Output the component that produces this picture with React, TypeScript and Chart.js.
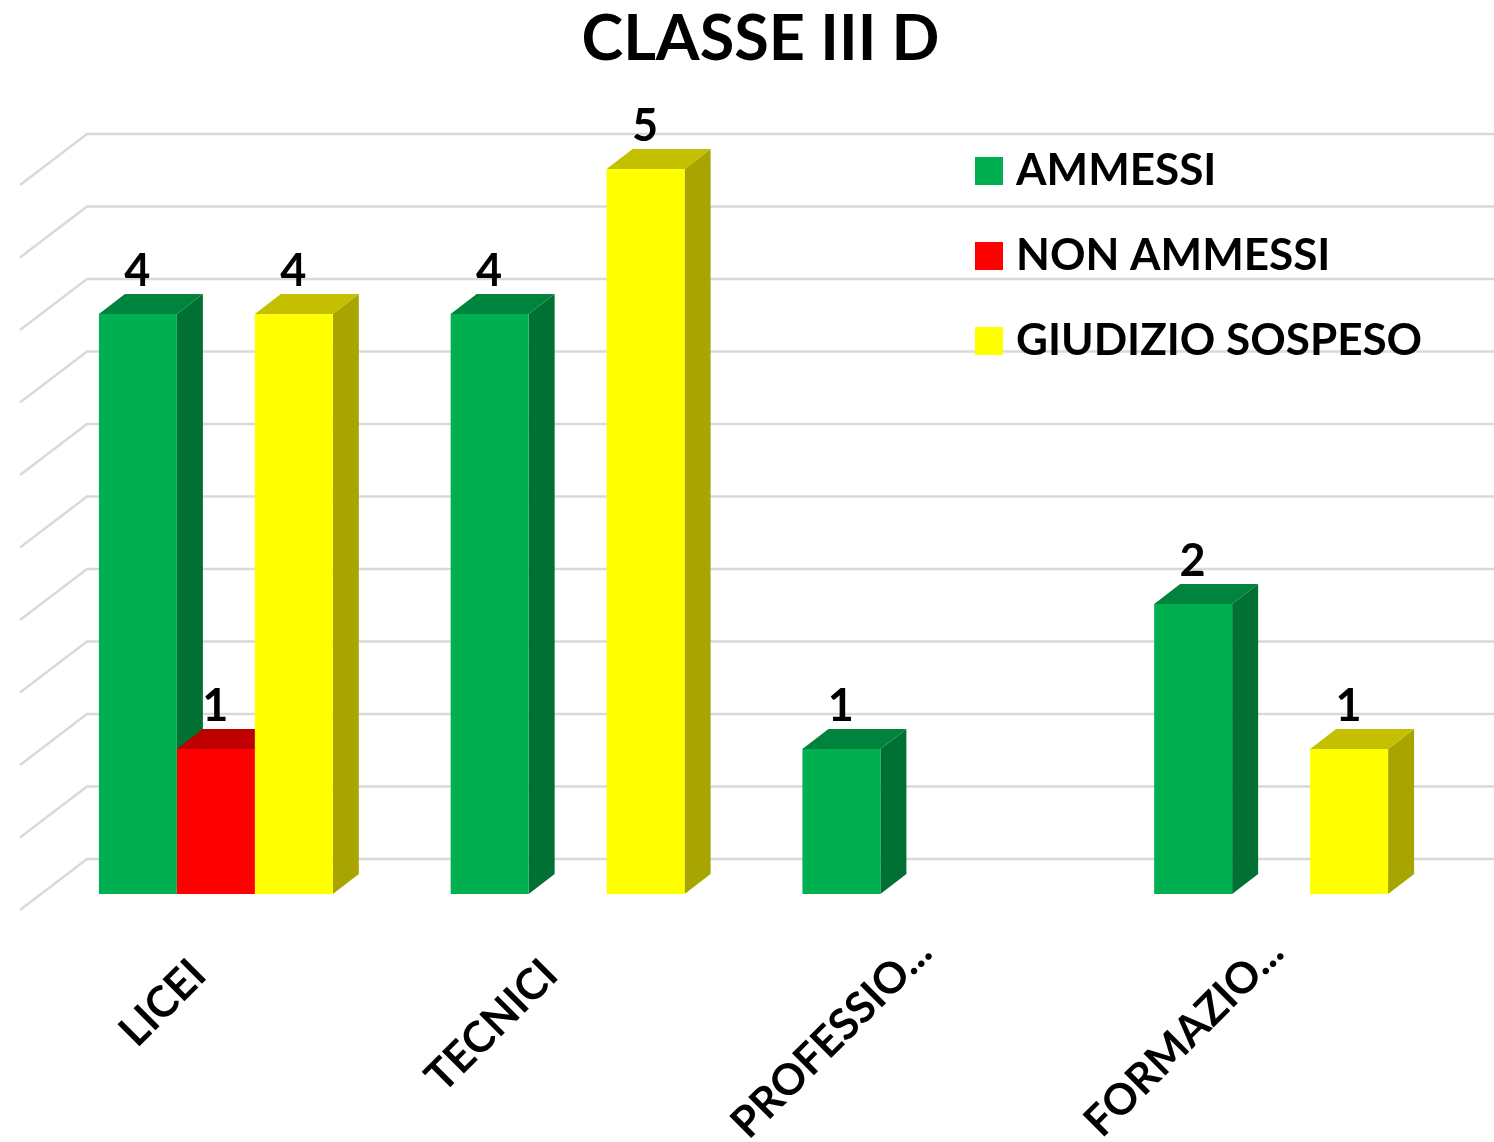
import React, { useEffect, useRef } from "react";
import { Chart, registerables } from "chart.js";

Chart.register(...registerables);

const categories = ["LICEI", "TECNICI", "PROFESSIO...", "FORMAZIO..."];
const ammessi = [4, 4, 1, 2];
const nonAmmessi = [1, null, null, null];
const sospeso = [4, 5, null, 1];
const gridTicks = [0, 0.5, 1, 1.5, 2, 2.5, 3, 3.5, 4, 4.5, 5];

const FONT = "Lato, Carlito, Calibri, sans-serif";
const TEXT = "#000000";
const faces = [
  { side: "#007033", top: "#00843D" },
  { side: "#BB0000", top: "#BF0000" },
  { side: "#A8A400", top: "#C4C000" },
];

const DEPTH_X = 26;
const DEPTH_Y = 20;

const poly = (ctx: CanvasRenderingContext2D, pts: number[][], color: string) => {
  ctx.fillStyle = color;
  ctx.beginPath();
  pts.forEach(([x, y], i) => (i ? ctx.lineTo(x, y) : ctx.moveTo(x, y)));
  ctx.closePath();
  ctx.fill();
};

const bars3d = {
  id: "bars3d",
  beforeDraw(chart: any) {
    const { ctx } = chart;
    const yScale = chart.scales.y;
    ctx.save();
    ctx.strokeStyle = "#D9D9D9";
    ctx.lineWidth = 2.4;
    yScale.ticks.forEach((t: any) => {
      const backY = yScale.getPixelForValue(t.value) - 35;
      ctx.beginPath();
      ctx.moveTo(20, backY + 51);
      ctx.lineTo(87, backY);
      ctx.lineTo(1494, backY);
      ctx.stroke();
    });
    ctx.restore();
  },
  beforeDatasetsDraw(chart: any) {
    const { ctx } = chart;
    const yScale = chart.scales.y;
    ctx.save();
    const base = yScale.getPixelForValue(0);
    chart.data.datasets.forEach((ds: any, di: number) => {
      const meta = chart.getDatasetMeta(di);
      meta.data.forEach((el: any, i: number) => {
        if (!ds.data[i]) return;
        const { x, y, width } = el.getProps(["x", "y", "width"], true);
        const l = x - width / 2;
        const r = x + width / 2;
        poly(ctx, [[r, y], [r + DEPTH_X, y - DEPTH_Y], [r + DEPTH_X, base - DEPTH_Y], [r, base]], faces[di].side);
        poly(ctx, [[l, y], [r, y], [r + DEPTH_X, y - DEPTH_Y], [l + DEPTH_X, y - DEPTH_Y]], faces[di].top);
      });
    });
    ctx.restore();
  },
  afterDatasetsDraw(chart: any) {
    const { ctx } = chart;
    ctx.save();
    ctx.fillStyle = TEXT;
    ctx.font = `bold 45px ${FONT}`;
    ctx.textAlign = "center";
    ctx.textBaseline = "middle";
    chart.data.datasets.forEach((ds: any, di: number) => {
      const meta = chart.getDatasetMeta(di);
      meta.data.forEach((el: any, i: number) => {
        const v = ds.data[i];
        if (!v) return;
        const { x, y } = el.getProps(["x", "y"], true);
        ctx.fillText(String(v), x - 0.5, y - 43);
      });
    });
    ctx.restore();
  },
  afterLayout(chart: any) {
    const lg = chart.legend;
    if (lg) {
      const w = lg.width;
      const h = lg.height;
      lg.left = 943;
      lg.top = 108;
      lg.right = lg.left + w;
      lg.bottom = lg.top + h;
    }
    const tb = chart.titleBlock;
    if (tb) {
      tb.left += 17;
      tb.right += 17;
    }
  },
};

export default function App() {
  const ref = useRef<HTMLCanvasElement | null>(null);
  useEffect(() => {
    document.body.style.margin = "0";
    const chart = new Chart(ref.current as HTMLCanvasElement, {
      type: "bar",
      data: {
        labels: categories,
        datasets: [
          { label: "AMMESSI", data: ammessi, backgroundColor: "#00B050" },
          { label: "NON AMMESSI", data: nonAmmessi, backgroundColor: "#FF0000" },
          { label: "GIUDIZIO SOSPESO", data: sospeso, backgroundColor: "#FFFF00" },
        ],
      },
      options: {
        responsive: false,
        animation: false,
        events: [],
        layout: { padding: { left: 40, right: 47, top: 0, bottom: 0 } },
        datasets: { bar: { categoryPercentage: 0.665, barPercentage: 1 } },
        plugins: {
          tooltip: { enabled: false },
          title: {
            display: true,
            text: "CLASSE III D",
            color: TEXT,
            font: { family: FONT, size: 63, weight: "bold", lineHeight: 1.2 },
            padding: { top: 2, bottom: 91.4 },
          },
          legend: {
            display: true,
            position: "chartArea",
            align: "start",
            labels: {
              color: TEXT,
              font: { family: FONT, size: 44, weight: "bold" },
              boxWidth: 10,
              boxHeight: 10,
              padding: 41,
              generateLabels(chart: any) {
                return Chart.defaults.plugins.legend.labels
                  .generateLabels(chart)
                  .map((l: any) => ({ ...l, lineWidth: 18, strokeStyle: l.fillStyle, lineJoin: "miter" }));
              },
            },
          },
        },
        scales: {
          x: {
            grid: { display: false },
            border: { display: false },
            ticks: {
              autoSkip: false,
              minRotation: 45,
              maxRotation: 45,
              padding: 25,
              labelOffset: 5,
              color: TEXT,
              font: { family: FONT, size: 43, weight: "bold" },
              callback(this: any, value: any) {
                const label = String(this.getLabelForValue(value));
                return label.endsWith("...") ? label : label + "   ";
              },
            },
            afterFit(s: any) {
              s.height = 248;
            },
          },
          y: {
            min: 0,
            max: 5,
            afterBuildTicks(s: any) {
              s.ticks = gridTicks.map((value) => ({ value }));
            },
            grid: { display: false },
            border: { display: false },
            ticks: { display: false },
            afterFit(s: any) {
              s.width = 0;
            },
          },
        },
      },
      plugins: [bars3d],
    } as any);
    return () => chart.destroy();
  }, []);
  return <canvas ref={ref} width={1494} height={1142} style={{ display: "block" }} />;
}
